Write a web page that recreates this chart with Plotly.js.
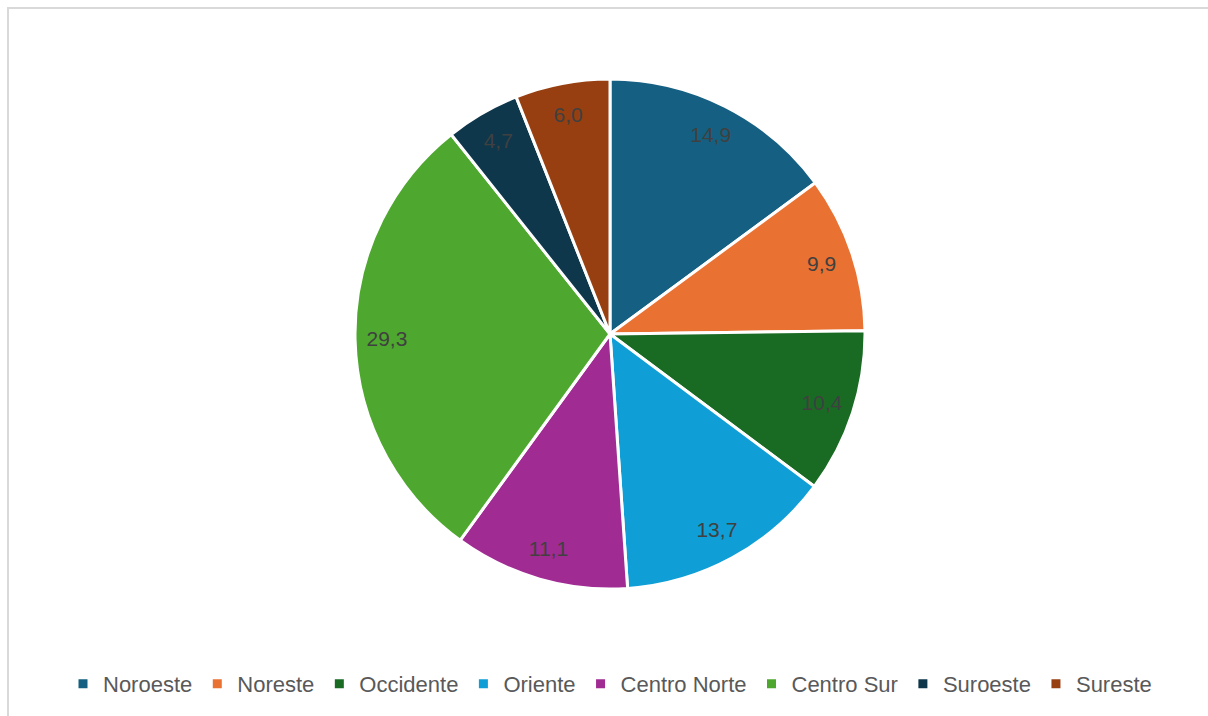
<!DOCTYPE html>
<html>
<head>
<meta charset="utf-8">
<script src="https://cdn.plot.ly/plotly-3.0.1.min.js"></script>
<style>
  html, body { margin: 0; padding: 0; background: #ffffff; }
  #chart { position: absolute; left: 0; top: 0; width: 1208px; height: 716px; }
  #frame { position: absolute; left: 7px; top: 7px; width: 1220px; height: 730px;
           border-left: 2px solid #d9d9d9; border-top: 2px solid #d9d9d9; pointer-events: none; }
</style>
</head>
<body>
<div id="chart"></div>
<div id="frame"></div>
<script>
const regions = ["Noroeste", "Noreste", "Occidente", "Oriente", "Centro Norte", "Centro Sur", "Suroeste", "Sureste"];
const shares = [14.9, 9.9, 10.4, 13.7, 11.1, 29.3, 4.7, 6.0];
const sliceColors = ["#156082", "#E97132", "#196B24", "#0F9ED5", "#A02B93", "#4EA72E", "#0E374C", "#973F10"];

const pieDomain = { x: [0, 1], y: [0, 1] };

const mainPie = {
  type: "pie",
  labels: regions,
  values: shares,
  sort: false,
  direction: "clockwise",
  rotation: 0,
  domain: pieDomain,
  marker: { colors: sliceColors, line: { color: "#ffffff", width: 3 } },
  textinfo: "none",
  hoverinfo: "label+value",
  showlegend: true
};

const labelRing = {
  type: "pie",
  labels: regions,
  values: shares,
  sort: false,
  direction: "clockwise",
  rotation: 0,
  hole: 0.75,
  domain: pieDomain,
  marker: { colors: regions.map(() => "rgba(0,0,0,0)"), line: { width: 0 } },
  texttemplate: "%{value:.1f}",
  textposition: "inside",
  insidetextorientation: "horizontal",
  insidetextfont: { family: "Liberation Sans, Arial, sans-serif", size: 21, color: "#404040" },
  hoverinfo: "skip",
  showlegend: false
};

const layout = {
  width: 1208,
  height: 716,
  margin: { l: 12, r: 0, t: 79, b: 127 },
  paper_bgcolor: "rgba(0,0,0,0)",
  plot_bgcolor: "rgba(0,0,0,0)",
  separators: ",.",
  font: { family: "Liberation Sans, Arial, sans-serif", color: "#595959", size: 22 },
  showlegend: true,
  legend: {
    orientation: "h",
    x: 0.5, xanchor: "center",
    y: -0.186, yanchor: "middle",
    font: { family: "Liberation Sans, Arial, sans-serif", size: 22, color: "#595959" },
    itemwidth: 30,
    traceorder: "normal"
  }
};

Plotly.newPlot("chart", [mainPie, labelRing], layout, { displayModeBar: false, staticPlot: true });
</script>
</body>
</html>
